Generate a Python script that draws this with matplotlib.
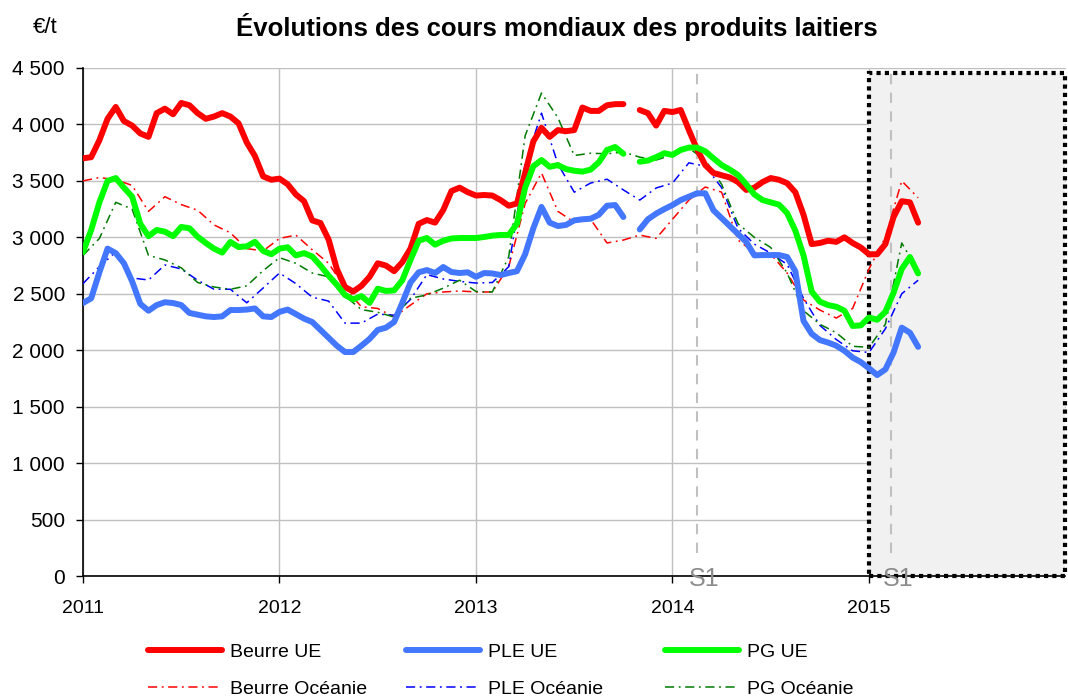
import numpy as np
import matplotlib
matplotlib.use("Agg")
import matplotlib.pyplot as plt
from matplotlib.patches import Rectangle

plt.rcParams['font.family'] = ['Liberation Sans', 'DejaVu Sans']

nan = np.nan

# semi-monthly EU quotations, monthly Oceania quotations
dates_ue = 2011 + np.arange(103) / 24
dates_oce = 2011 + np.arange(52) / 12

beurre_ue = [3700, 3710, 3860, 4050, 4155, 4030, 3990, 3920, 3890, 4100,
             4140, 4090, 4190, 4170, 4100, 4050, 4070, 4100, 4070, 4010,
             3840, 3720, 3540, 3510, 3520, 3470, 3380, 3320, 3150, 3127,
             2980, 2720, 2560, 2520, 2570, 2650, 2770, 2750, 2700, 2780,
             2900, 3120, 3153, 3130, 3242, 3410, 3440, 3400, 3370, 3375,
             3370, 3330, 3280, 3300, 3570, 3850, 3970, 3890, 3950, 3940,
             3950, 4150, 4120, 4120, 4170, 4180, 4180, nan, 4128, 4100,
             3990, 4120, 4110, 4128, 3950, 3780, 3640, 3570, 3550, 3530,
             3490, 3420, 3440, 3490, 3525, 3510, 3480, 3400, 3200, 2940,
             2950, 2970, 2960, 3000, 2950, 2910, 2850, 2850, 2940, 3180,
             3320, 3310, 3130]

ple_ue = [2418, 2460, 2690, 2900, 2860, 2770, 2610, 2410, 2350, 2400,
          2425, 2418, 2400, 2330, 2315, 2300, 2294, 2300, 2356, 2356,
          2360, 2370, 2300, 2294, 2340, 2360, 2320, 2280, 2250, 2180,
          2110, 2040, 1984, 1984, 2040, 2100, 2180, 2200, 2250, 2420,
          2600, 2690, 2710, 2684, 2737, 2693, 2684, 2690, 2650, 2684,
          2680, 2666, 2684, 2700, 2850, 3080, 3269, 3130, 3100, 3110,
          3150, 3160, 3165, 3200, 3280, 3286, 3180, nan, 3070, 3160,
          3210, 3250, 3286, 3330, 3360, 3390, 3390, 3240, 3170, 3100,
          3030, 2960, 2840, 2843, 2843, 2843, 2826, 2700, 2260, 2145,
          2090, 2068, 2040, 1995, 1935, 1895, 1840, 1780, 1830, 1980,
          2200, 2155, 2030]

pg_ue = [2870, 3065, 3310, 3500, 3525, 3440, 3360, 3120, 3010, 3065,
         3050, 3010, 3092, 3080, 3005, 2950, 2900, 2865, 2959, 2914,
         2920, 2960, 2880, 2850, 2900, 2912, 2840, 2860, 2830, 2750,
         2660, 2580, 2489, 2450, 2480, 2420, 2545, 2525, 2530, 2620,
         2800, 2970, 2994, 2935, 2970, 2990, 2994, 2994, 2994, 3003,
         3015, 3021, 3021, 3120, 3440, 3630, 3685, 3625, 3640, 3605,
         3590, 3582, 3600, 3665, 3774, 3800, 3740, nan, 3670, 3680,
         3710, 3745, 3730, 3774, 3795, 3795, 3762, 3700, 3640, 3600,
         3552, 3470, 3380, 3330, 3310, 3290, 3215, 3060, 2840, 2520,
         2430, 2400, 2385, 2350, 2215, 2220, 2290, 2270, 2340, 2510,
         2720, 2826, 2680]

beurre_oce = [3500, 3530, 3510, 3460, 3230, 3360, 3290, 3240, 3110, 3040,
              2900, 2880, 2990, 3020, 2890, 2770, 2550, 2385, 2370, 2294,
              2400, 2500, 2516, 2525, 2516, 2516, 2740, 3300, 3570, 3230,
              3135, 3160, 2950, 2976, 3020, 2990, 3160, 3330, 3446, 3400,
              2976, 2865, 2850, 2684, 2445, 2356, 2285, 2370, 2720, 3000,
              3500, 3350]

ple_oce = [2590, 2740, 2870, 2640, 2622, 2755, 2720, 2620, 2540, 2540,
           2420, 2551, 2684, 2590, 2470, 2435, 2240, 2240, 2320, 2310,
           2450, 2670, 2631, 2610, 2595, 2600, 2740, 3650, 4100, 3650,
           3400, 3481, 3515, 3420, 3330, 3437, 3481, 3660, 3630, 3440,
           3080, 2940, 2860, 2760, 2460, 2220, 2095, 1995, 1980, 2190,
           2500, 2620]

pg_oce = [2840, 2990, 3310, 3250, 2840, 2800, 2730, 2600, 2560, 2540,
          2570, 2705, 2820, 2770, 2684, 2650, 2480, 2360, 2336, 2294,
          2460, 2490, 2550, 2620, 2520, 2516, 2830, 3900, 4278, 4060,
          3725, 3745, 3740, 3756, 3710, 3685, 3730, 3790, 3685, 3470,
          3120, 3000, 2910, 2684, 2350, 2230, 2155, 2035, 2025, 2230,
          2950, 2700]

years = [2011, 2012, 2013, 2014, 2015]
s1_marks = [2014.125, 2015.112]

fig = plt.figure(figsize=(10.68, 7), dpi=100)
ax = fig.add_axes([83/1068, 1 - 576/700, (1065.5 - 83)/1068, (576 - 68)/700])

# forecast zone
ax.add_patch(Rectangle((2015.0, 0), 0.995, 4455, facecolor='#f1f1f1',
                       edgecolor='black', lw=3, linestyle=(0, (1, 1)),
                       zorder=1, clip_on=False))

for m in s1_marks:
    ax.plot([m, m], [200, 4480], color='#c0c0c0', lw=1.5,
            dashes=(5, 4), zorder=1.5)
    ax.text(m + 0.036, -30, 'S1', ha='center', va='center', color='#8c8c8c',
            fontsize=18, clip_on=False, zorder=5)

thin = dict(lw=1.1, dashes=(6, 3, 1.2, 3), zorder=3)
l_bo, = ax.plot(dates_oce, beurre_oce, color='#ff0000', label='Beurre Océanie', **thin)
l_po, = ax.plot(dates_oce, ple_oce, color='#0000ff', label='PLE Océanie', **thin)
l_go, = ax.plot(dates_oce, pg_oce, color='#007a00', label='PG Océanie', **thin)

thick = dict(lw=4.3, solid_capstyle='round', solid_joinstyle='round', zorder=4)
l_bu, = ax.plot(dates_ue, beurre_ue, color='#ff0000', label='Beurre UE', **thick)
l_pu, = ax.plot(dates_ue, ple_ue, color='#4477ff', label='PLE UE', **thick)
l_gu, = ax.plot(dates_ue, pg_ue, color='#00ff00', label='PG UE', **thick)

ax.set_xlim(2011, 2016)
ax.set_ylim(0, 4500)
ax.set_yticks(range(0, 4501, 500))
ax.set_yticklabels([f"{v:,}".replace(",", " ") for v in range(0, 4501, 500)])
ax.set_xticks(years)
ax.set_xticklabels([str(y) for y in years])
ax.grid(True, color='#c0c0c0', lw=1)
ax.set_axisbelow(True)
for s in ['top', 'right']:
    ax.spines[s].set_visible(False)
ax.spines['left'].set_linewidth(1.2)
ax.spines['bottom'].set_linewidth(1.2)
ax.tick_params(axis='y', labelsize=15, length=5, width=1, pad=8)
ax.tick_params(axis='x', labelsize=14, length=5, width=1, pad=12)

fig.text(0.5215, 0.961, 'Évolutions des cours mondiaux des produits laitiers',
         fontsize=18.5, fontweight='bold', ha='center', va='center')
fig.text(45/1068, 0.961, '€/t', fontsize=16, ha='center', va='center')

cols = [(148, [l_bu, l_bo]), (406, [l_pu, l_po]), (665, [l_gu, l_go])]
for xpix, hs in cols:
    fig.legend(handles=hs, loc='upper left', bbox_to_anchor=(xpix/1068, 1 - 643/700),
               frameon=False, fontsize=14, handlelength=3.8, handletextpad=0.4,
               labelspacing=1.0, borderpad=0, borderaxespad=0)

fig.savefig('out.png', dpi=100)
